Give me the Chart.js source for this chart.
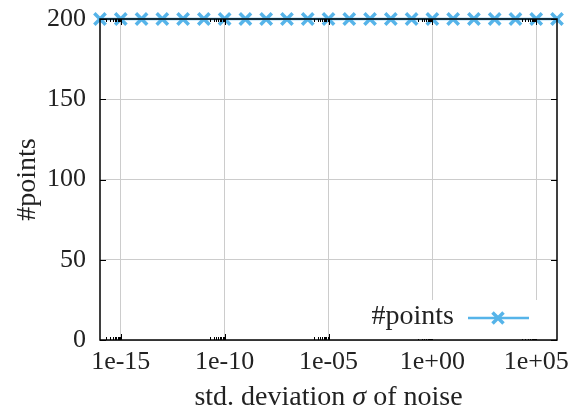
<!DOCTYPE html>
<html>
<head>
<meta charset="utf-8">
<script src="https://cdn.jsdelivr.net/npm/chart.js"></script>
<style>
  html, body { margin: 0; padding: 0; background: #fff; overflow: hidden; }
</style>
</head>
<body>
<canvas id="chart" width="575" height="414"></canvas>
<script>
// data: one point per decade, all at 200
const sigma = [1e-16, 1e-15, 1e-14, 1e-13, 1e-12, 1e-11, 1e-10, 1e-9, 1e-8, 1e-7, 1e-6, 1e-5,
               1e-4, 1e-3, 1e-2, 1e-1, 1e0, 1e1, 1e2, 1e3, 1e4, 1e5, 1e6];
const numPoints = [200, 200, 200, 200, 200, 200, 200, 200, 200, 200, 200, 200,
                   200, 200, 200, 200, 200, 200, 200, 200, 200, 200, 200];
const xTicks = [1e-15, 1e-10, 1e-5, 1e0, 1e5];
const xTickLabels = ['1e-15', '1e-10', '1e-05', '1e+00', '1e+05'];
const yTicks = [0, 50, 100, 150, 200];
const minorMult = [2, 3, 4, 5, 6, 7, 8, 9];

const FONT = "'Liberation Serif', 'DejaVu Serif', serif";
const BLUE = '#56b4e9';

// frame, inward ticks, axis titles and legend, like the gnuplot original
const decor = {
  id: 'decor',
  afterDraw(chart) {
    const ctx = chart.ctx;
    const a = chart.chartArea;
    const xs = chart.scales.x, ys = chart.scales.y;
    ctx.save();
    ctx.strokeStyle = '#000';
    ctx.lineWidth = 1;
    ctx.beginPath();
    // major x ticks
    xTicks.forEach(v => {
      const px = Math.round(xs.getPixelForValue(v)) + 0.5;
      ctx.moveTo(px, a.bottom); ctx.lineTo(px, a.bottom - 6);
      ctx.moveTo(px, a.top); ctx.lineTo(px, a.top + 6);
      // minor ticks of the decade below
      minorMult.forEach(m => {
        const mx = Math.round(xs.getPixelForValue(m * v / 10)) + 0.5;
        ctx.moveTo(mx, a.bottom); ctx.lineTo(mx, a.bottom - 3);
        ctx.moveTo(mx, a.top); ctx.lineTo(mx, a.top + 3);
      });
    });
    yTicks.forEach(v => {
      const py = Math.round(ys.getPixelForValue(v)) + 0.5;
      ctx.moveTo(a.left, py); ctx.lineTo(a.left + 6, py);
      ctx.moveTo(a.right, py); ctx.lineTo(a.right - 6, py);
    });
    ctx.stroke();

    // frame
    ctx.lineWidth = 1.5;
    ctx.strokeRect(a.left, a.top, a.right - a.left, a.bottom - a.top);

    // legend box
    ctx.fillStyle = '#fff';
    ctx.fillRect(355, 300, 185, a.bottom - 301);
    ctx.fillStyle = '#222';
    ctx.font = '28px ' + FONT;
    ctx.textAlign = 'right';
    ctx.textBaseline = 'middle';
    ctx.fillText('#points', 454, 317);
    ctx.strokeStyle = BLUE;
    ctx.lineWidth = 2.5;
    ctx.beginPath();
    ctx.moveTo(468, 318); ctx.lineTo(529, 318);
    ctx.stroke();
    ctx.lineWidth = 3.5;
    ctx.beginPath();
    ctx.moveTo(492.5, 312.5); ctx.lineTo(503.5, 323.5);
    ctx.moveTo(503.5, 312.5); ctx.lineTo(492.5, 323.5);
    ctx.stroke();

    // axis titles
    ctx.fillStyle = '#222';
    ctx.textAlign = 'left';
    ctx.textBaseline = 'alphabetic';
    const p1 = 'std. deviation ', p2 = '\u03c3', p3 = ' of noise';
    ctx.font = '28px ' + FONT;
    const w1 = ctx.measureText(p1).width, w3 = ctx.measureText(p3).width;
    ctx.font = 'italic 28px ' + FONT;
    const w2 = ctx.measureText(p2).width;
    let x0 = (a.left + a.right) / 2 - (w1 + w2 + w3) / 2;
    const yb = 405;
    ctx.font = '28px ' + FONT;
    ctx.fillText(p1, x0, yb);
    ctx.font = 'italic 28px ' + FONT;
    ctx.fillText(p2, x0 + w1, yb);
    ctx.font = '28px ' + FONT;
    ctx.fillText(p3, x0 + w1 + w2, yb);

    ctx.translate(28, (a.top + a.bottom) / 2);
    ctx.rotate(-Math.PI / 2);
    ctx.textAlign = 'center';
    ctx.textBaseline = 'middle';
    ctx.fillText('#points', 0, 0);
    ctx.restore();
  }
};

new Chart(document.getElementById('chart'), {
  type: 'scatter',
  data: {
    datasets: [{
      label: '#points',
      data: sigma.map((s, i) => ({ x: s, y: numPoints[i] })),
      showLine: true,
      borderColor: BLUE,
      backgroundColor: BLUE,
      borderWidth: 2.5,
      pointStyle: 'crossRot',
      pointRadius: 8,
      pointBorderWidth: 3.5,
      pointHoverRadius: 8,
      clip: false
    }]
  },
  options: {
    responsive: false,
    animation: false,
    devicePixelRatio: 1,
    layout: { padding: { top: 19, right: 18, left: 0, bottom: 0 } },
    plugins: { legend: { display: false }, tooltip: { enabled: false } },
    scales: {
      x: {
        type: 'logarithmic',
        min: 1e-16,
        max: 1e6,
        afterBuildTicks: s => { s.ticks = xTicks.map(v => ({ value: v })); },
        afterFit: s => { s.height = 74; s.paddingLeft = 0; s.paddingRight = 0; },
        grid: { color: '#cccccc', lineWidth: 1, drawTicks: false },
        border: { display: false },
        ticks: {
          autoSkip: false,
          maxRotation: 0,
          padding: 7,
          color: '#222',
          font: { family: FONT, size: 26 },
          callback: (v, i) => xTickLabels[i]
        }
      },
      y: {
        min: 0,
        max: 200,
        afterBuildTicks: s => { s.ticks = yTicks.map(v => ({ value: v })); },
        afterFit: s => { s.width = 100; s.paddingTop = 0; s.paddingBottom = 0; },
        grid: { color: '#cccccc', lineWidth: 1, drawTicks: false },
        border: { display: false },
        ticks: {
          padding: 14,
          color: '#222',
          font: { family: FONT, size: 26 }
        }
      }
    }
  },
  plugins: [decor]
});
</script>
</body>
</html>
